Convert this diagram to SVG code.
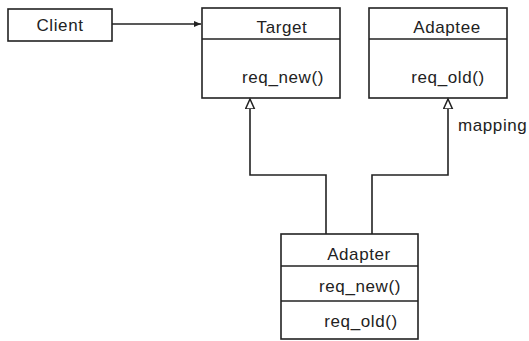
<svg xmlns="http://www.w3.org/2000/svg" width="529" height="341" viewBox="0 0 529 341">
<defs>
<marker id="arr" markerWidth="8" markerHeight="8" refX="7" refY="4" orient="auto" markerUnits="userSpaceOnUse">
<path d="M0,1 L7,4 L0,7 Z" fill="#222"/>
</marker>
<marker id="tri" markerWidth="12" markerHeight="12" refX="10" refY="5" orient="auto" markerUnits="userSpaceOnUse">
<path d="M0,0.5 L10,5 L0,9.5 Z" fill="#fff" stroke="#222" stroke-width="1.5"/>
</marker>
<style>
.box{fill:#fff;stroke:#222;stroke-width:1.6}
.div{stroke:#222;stroke-width:1.6}
.t{font-family:"Liberation Sans",Arial,sans-serif;font-size:17px;letter-spacing:0.6px;fill:#222;text-anchor:middle}
.c{fill:none;stroke:#222;stroke-width:1.6}
.m{font-family:"Liberation Sans",Arial,sans-serif;font-size:17px;letter-spacing:0.6px;fill:#222}
</style>
</defs>
<rect width="529" height="341" fill="#fff"/>
<g id="client">
<rect class="box" x="8" y="9" width="104" height="32"/>
<text class="t" x="60" y="31">Client</text>
</g>
<g id="target">
<rect class="box" x="202" y="8" width="138" height="90"/>
<line class="div" x1="202" y1="39" x2="340" y2="39"/>
<text class="t" x="282" y="33">Target</text>
<text class="t" x="283" y="83">req_new()</text>
</g>
<g id="adaptee">
<rect class="box" x="369" y="8" width="138" height="90"/>
<line class="div" x1="369" y1="39" x2="507" y2="39"/>
<text class="t" x="447" y="33">Adaptee</text>
<text class="t" x="448" y="83">req_old()</text>
</g>
<g id="adapter">
<rect class="box" x="281" y="234" width="137" height="105"/>
<line class="div" x1="281" y1="266" x2="418" y2="266"/>
<line class="div" x1="281" y1="301" x2="418" y2="301"/>
<text class="t" x="359" y="260">Adapter</text>
<text class="t" x="360" y="292">req_new()</text>
<text class="t" x="361" y="327">req_old()</text>
</g>
<g id="connectors">
<line class="c" x1="112" y1="24" x2="201" y2="24" marker-end="url(#arr)"/>
<polyline class="c" points="326,234 326,175 250,175 250,99" marker-end="url(#tri)"/>
<polyline class="c" points="372,234 372,175 448,175 448,99" marker-end="url(#tri)"/>
<text class="m" x="458" y="131">mapping</text>
</g>
</svg>
